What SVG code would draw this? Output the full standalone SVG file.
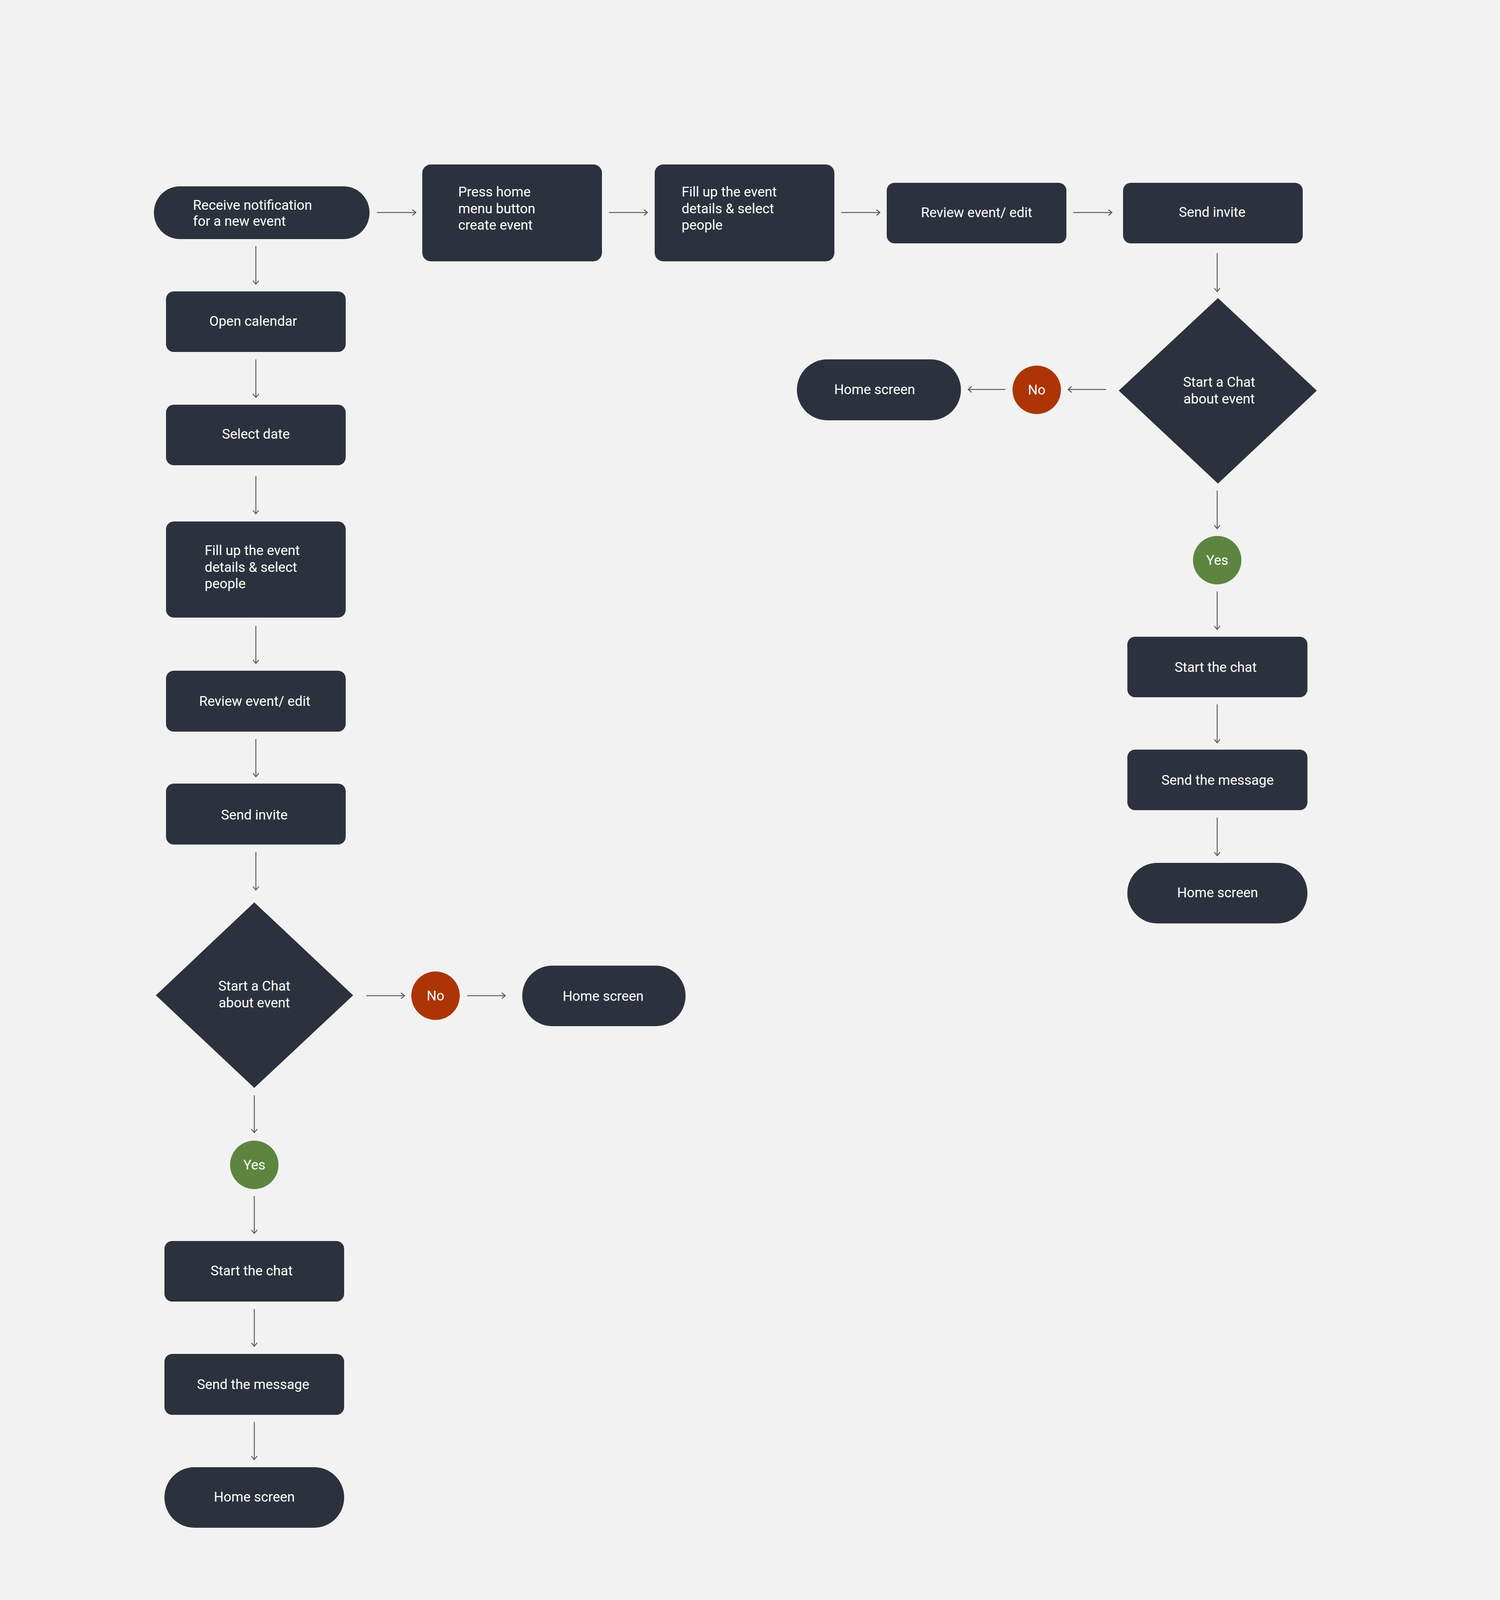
<svg xmlns="http://www.w3.org/2000/svg" width="3840" height="4334" viewBox="0 0 3840 4334">
<defs>
<style>
.node{fill:#2c323d}
.no{fill:#ad3505}
.yes{fill:#5d8540}
.t{font-family:Roboto,"Liberation Sans",sans-serif;font-size:35px;fill:#ffffff}
.c{text-anchor:middle}
.conn line{stroke:#606060;stroke-width:2.5;fill:none;marker-end:url(#ah)}
</style>
<marker id="ah" markerUnits="userSpaceOnUse" viewBox="0 0 12 18" refX="11" refY="9" markerWidth="12" markerHeight="18" orient="auto">
<path d="M1.5,1.5 L10.5,9 L1.5,16.5" fill="none" stroke="#606060" stroke-width="2.5"/>
</marker>
</defs>
<rect x="0" y="0" width="3840" height="4334" fill="#f2f2f2"/>

<g id="connectors" class="conn">
<line x1="965" y1="544" x2="1065" y2="544"/>
<line x1="1559" y1="544" x2="1658" y2="544"/>
<line x1="2154" y1="544" x2="2253" y2="544"/>
<line x1="2748" y1="544" x2="2847" y2="544"/>
<line x1="3116" y1="648" x2="3116" y2="747"/>
<line x1="3116" y1="1256" x2="3116" y2="1354"/>
<line x1="3116" y1="1514" x2="3116" y2="1612"/>
<line x1="3116" y1="1803" x2="3116" y2="1902"/>
<line x1="3116" y1="2093" x2="3116" y2="2191"/>
<line x1="2832" y1="997" x2="2734" y2="997"/>
<line x1="2574" y1="997" x2="2478" y2="997"/>
<line x1="655" y1="630" x2="655" y2="728"/>
<line x1="655" y1="920" x2="655" y2="1018"/>
<line x1="655" y1="1219" x2="655" y2="1316"/>
<line x1="655" y1="1602" x2="655" y2="1699"/>
<line x1="655" y1="1892" x2="655" y2="1989"/>
<line x1="655" y1="2181" x2="655" y2="2279"/>
<line x1="651" y1="2804" x2="651" y2="2900"/>
<line x1="651" y1="3062" x2="651" y2="3158"/>
<line x1="651" y1="3351" x2="651" y2="3447"/>
<line x1="651" y1="3640" x2="651" y2="3737"/>
<line x1="938" y1="2549" x2="1036" y2="2549"/>
<line x1="1196" y1="2549" x2="1294" y2="2549"/>
</g>

<g id="n-receive"><rect class="node" x="394" y="477" width="552" height="135" rx="67"/><text class="t" x="494" y="537">Receive notification</text><text class="t" x="494" y="578">for a new event</text></g>
<g id="n-press"><rect class="node" x="1081" y="421" width="460" height="248" rx="22"/><text class="t" x="1173" y="503">Press home</text><text class="t" x="1173" y="546">menu button</text><text class="t" x="1173" y="588">create event</text></g>
<g id="n-fill-top"><rect class="node" x="1676" y="421" width="460" height="248" rx="22"/><text class="t" x="1745" y="503">Fill up the event</text><text class="t" x="1745" y="546">details &amp; select</text><text class="t" x="1745" y="588">people</text></g>
<g id="n-review-top"><rect class="node" x="2270" y="468" width="460" height="155" rx="20"/><text class="t c" x="2500" y="556">Review event/ edit</text></g>
<g id="n-send-top"><rect class="node" x="2875" y="468" width="460" height="155" rx="20"/><text class="t c" x="3103" y="555">Send invite</text></g>
<g id="n-diamond-right"><polygon class="node" points="3118,763 3371,1000 3118,1238 2864,1000"/><text class="t c" x="3121" y="990">Start a Chat</text><text class="t c" x="3121" y="1033">about event</text></g>
<g id="n-no-right"><circle class="no" cx="2654" cy="998" r="62"/><text class="t c" x="2654" y="1010">No</text></g>
<g id="n-home-right-top"><rect class="node" x="2040" y="920" width="420" height="156" rx="78"/><text class="t c" x="2239" y="1009">Home screen</text></g>
<g id="n-yes-right"><circle class="yes" cx="3116" cy="1434" r="62"/><text class="t c" x="3116" y="1446">Yes</text></g>
<g id="n-start-right"><rect class="node" x="2886" y="1630" width="461" height="155" rx="20"/><text class="t c" x="3112" y="1720">Start the chat</text></g>
<g id="n-send-msg-right"><rect class="node" x="2886" y="1919" width="461" height="155" rx="20"/><text class="t c" x="3117" y="2009">Send the message</text></g>
<g id="n-home-right-bottom"><rect class="node" x="2886" y="2209" width="461" height="155" rx="77"/><text class="t c" x="3117" y="2297">Home screen</text></g>

<g id="n-open-cal"><rect class="node" x="425" y="746" width="460" height="155" rx="20"/><text class="t c" x="648" y="834">Open calendar</text></g>
<g id="n-select-date"><rect class="node" x="425" y="1036" width="460" height="155" rx="20"/><text class="t c" x="655" y="1123">Select date</text></g>
<g id="n-fill-left"><rect class="node" x="425" y="1335" width="460" height="246" rx="20"/><text class="t" x="524" y="1421">Fill up the event</text><text class="t" x="524" y="1464">details &amp; select</text><text class="t" x="524" y="1506">people</text></g>
<g id="n-review-left"><rect class="node" x="425" y="1717" width="460" height="156" rx="20"/><text class="t c" x="652" y="1807">Review event/ edit</text></g>
<g id="n-send-left"><rect class="node" x="425" y="2006" width="460" height="156" rx="20"/><text class="t c" x="651" y="2098">Send invite</text></g>
<g id="n-diamond-left"><polygon class="node" points="651,2310 904,2548 651,2785 399,2548"/><text class="t c" x="651" y="2536">Start a Chat</text><text class="t c" x="651" y="2579">about event</text></g>
<g id="n-no-left"><circle class="no" cx="1115" cy="2549" r="62"/><text class="t c" x="1115" y="2561">No</text></g>
<g id="n-home-left-mid"><rect class="node" x="1337" y="2472" width="418" height="155" rx="77"/><text class="t c" x="1544" y="2562">Home screen</text></g>
<g id="n-yes-left"><circle class="yes" cx="651" cy="2982" r="62"/><text class="t c" x="651" y="2994">Yes</text></g>
<g id="n-start-left"><rect class="node" x="421" y="3177" width="460" height="155" rx="20"/><text class="t c" x="644" y="3265">Start the chat</text></g>
<g id="n-send-msg-left"><rect class="node" x="421" y="3466" width="460" height="156" rx="20"/><text class="t c" x="648" y="3556">Send the message</text></g>
<g id="n-home-left-bottom"><rect class="node" x="421" y="3756" width="460" height="155" rx="77"/><text class="t c" x="651" y="3844">Home screen</text></g>
</svg>
